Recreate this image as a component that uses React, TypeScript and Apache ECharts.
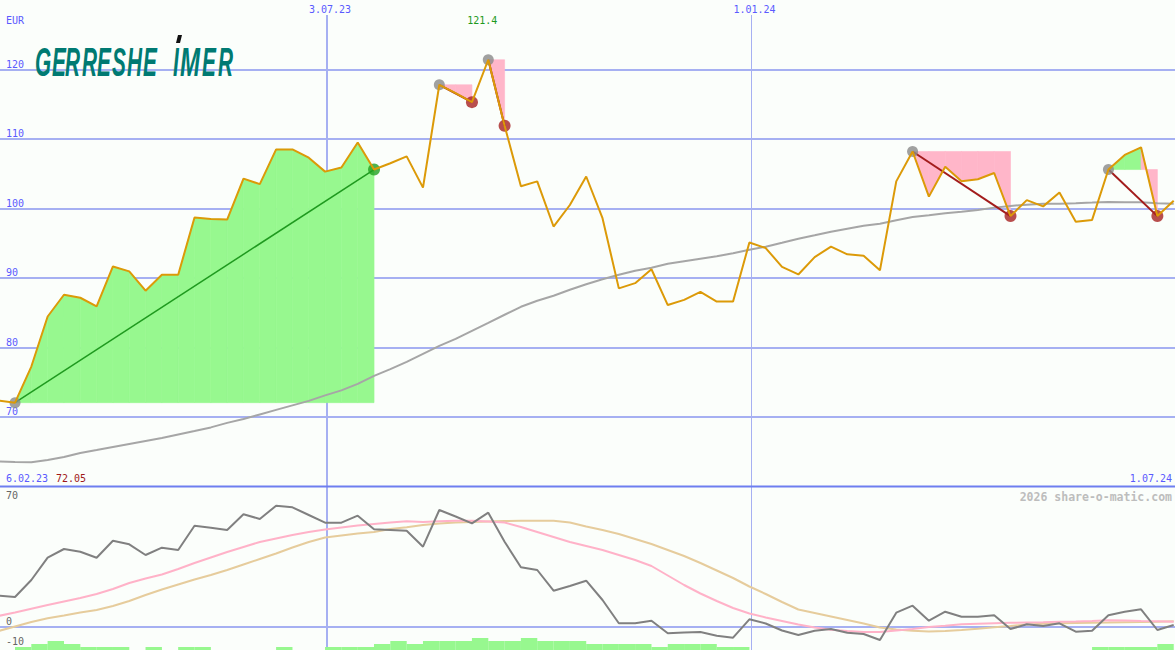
import React, { useEffect, useRef } from 'react';
import * as echarts from 'echarts';

// Weekly closing prices (EUR), index 0..72
const price = [
  72.35, 72.05, 77.25, 84.45, 87.58, 87.15, 85.9, 91.65, 90.94, 88.16,
  90.46, 90.46, 98.7, 98.5, 98.4, 104.3, 103.5, 108.5, 108.5, 107.3,
  105.3, 105.9, 109.5, 105.6, 106.5, 107.5, 103.0, 117.8, 116.6, 115.3,
  121.4, 111.9, 103.2, 103.9, 97.4, 100.5, 104.6, 98.6, 88.5, 89.25,
  91.25, 86.1, 86.85, 88.0, 86.6, 86.6, 95.1, 94.3, 91.6, 90.5,
  93.0, 94.5, 93.4, 93.2, 91.1, 103.9, 108.2, 101.7, 106.0, 103.9,
  104.2, 105.1, 98.9, 101.2, 100.3, 102.3, 98.1, 98.35, 105.6, 107.7,
  108.8, 98.9, 101.1,
];

// Long moving average (grey)
const movingAvg = [
  63.59, 63.52, 63.47, 63.8, 64.24, 64.81, 65.24, 65.68, 66.11, 66.54,
  66.97, 67.48, 67.98, 68.49, 69.14, 69.71, 70.36, 71.01, 71.66, 72.31,
  73.1, 73.82, 74.76, 75.91, 76.87, 77.93, 79.08, 80.23, 81.24, 82.39,
  83.54, 84.7, 85.85, 86.71, 87.44, 88.3, 89.09, 89.81, 90.46, 91.04,
  91.47, 92.05, 92.41, 92.77, 93.13, 93.56, 94.06, 94.5, 95.07, 95.65,
  96.15, 96.66, 97.09, 97.52, 97.81, 98.31, 98.78, 99.03, 99.32, 99.54,
  99.78, 100.12, 100.37, 100.55, 100.66, 100.69, 100.76, 100.84, 100.94, 100.91,
  100.89, 100.76, 100.69,
];

// Lower panel: oscillator (dark grey)
const oscillator = [
  15.65, 15.0, 23.5, 34.65, 39.0, 37.65, 34.65, 43.15, 41.35, 36.0,
  39.65, 38.5, 50.65, 49.65, 48.5, 56.35, 54.0, 60.65, 59.85, 56.0,
  52.15, 52.15, 55.65, 48.85, 48.5, 48.15, 40.15, 58.5, 55.25, 51.85,
  57.15, 42.65, 29.85, 28.5, 18.15, 20.5, 23.15, 13.5, 1.85, 1.85,
  3.15, -3.15, -2.75, -2.5, -4.35, -5.35, 3.85, 1.75, -1.75, -4.0,
  -1.85, -1.0, -2.85, -3.5, -6.5, 7.15, 10.65, 3.15, 7.65, 5.15,
  5.15, 5.85, -1.0, 1.35, 0.5, 1.85, -2.35, -1.85, 5.85, 7.65,
  8.85, -1.5, 1.0,
];

// Lower panel: fast signal (pink)
const signalFast = [
  5.55, 7.25, 9.15, 11.0, 12.75, 14.5, 16.5, 19.0, 22.0, 24.25,
  26.25, 29.0, 32.0, 34.75, 37.5, 40.0, 42.5, 44.25, 46.0, 47.5,
  48.75, 49.75, 50.75, 51.5, 52.25, 52.9, 52.5, 52.9, 53.15, 53.15,
  52.75, 52.25, 50.0, 47.5, 45.0, 42.5, 40.5, 38.5, 36.0, 33.5,
  30.5, 25.75, 21.0, 16.75, 13.0, 9.5, 6.75, 4.75, 3.0, 1.25,
  -0.25, -1.4, -2.0, -2.5, -2.5, -1.75, -1.0, 0, 0.65, 1.35,
  1.6, 1.85, 2.1, 2.25, 2.4, 2.6, 2.75, 3.0, 3.35, 3.25,
  3.0, 2.85, 2.65,
];

// Lower panel: slow signal (tan)
const signalSlow = [
  -2.0, 0.25, 2.5, 4.35, 5.75, 7.25, 8.5, 10.5, 13.0, 16.0,
  18.75, 21.25, 23.75, 26.0, 28.5, 31.25, 34.0, 36.75, 39.75, 42.5,
  44.75, 45.75, 46.75, 47.5, 49.0, 49.85, 51.0, 51.75, 52.25, 52.5,
  52.75, 53.0, 53.15, 53.15, 53.15, 52.25, 50.25, 48.5, 46.5, 44.0,
  41.5, 38.5, 35.5, 32.0, 28.25, 24.5, 20.25, 16.5, 12.5, 8.75,
  7.0, 5.25, 3.5, 1.75, -0.25, -1.25, -1.9, -2.25, -2.0, -1.5,
  -0.85, -0.15, 0.5, 1.25, 1.6, 1.85, 2.0, 2.15, 2.25, 2.4,
  2.5, 2.65, 2.85,
];

// Lower panel: histogram levels (green bars, one per week)
const histogram = [
  0, 1, 2, 3, 2, 1, 1, 1, 0, 1,
  0, 1, 1, 0, 0, 0, 0, 1, 0, 0,
  1, 1, 1, 2, 3, 2, 3, 3, 3, 4,
  3, 3, 4, 3, 3, 3, 2, 2, 2, 2,
  1, 2, 2, 2, 1, 1, 0, 0, 0, 0,
  0, 0, 0, 0, 0, 0, 0, 0, 0, 0,
  0, 0, 0, 0, 0, 0, 0, 1, 1, 1,
  1, 2,
];

// Trend segments (start week, end week)
const tradeStarts = [1, 27, 30, 56, 68];
const tradeEnds = [23, 29, 31, 62, 71];

// Date marks (week position) and labels
const dateLabels = ['3.07.23', '1.01.24'];
const datePositions = [20.12, 46.1];
const firstDate = '6.02.23';
const lastDate = '1.07.24';
const currency = 'EUR';
const lowerTicks = [70, 0, -10];

// Logo letters
const logoLetters = ['G', 'E', 'R', 'R', 'E', 'S', 'H', 'E', 'I', 'M', 'E', 'R'];
const logoOffsets = [0, 17, 30, 47, 62, 77, 92, 108, 138, 145, 167, 183];

const BLUE_TEXT = '#5a5aff';
const GRID = '#a6b0f2';
const MONO = '"DejaVu Sans Mono", monospace';

export default function App() {
  const ref = useRef<HTMLDivElement>(null);

  useEffect(() => {
    document.body.style.margin = '0';
    const el = ref.current!;
    const chart = echarts.init(el, null, { renderer: 'svg' });

    const trades = tradeStarts.map((s, k) => ({ start: s, end: tradeEnds[k] }));
    const xMin = 0.08;
    const xMax = 72.08;

    const option: any = {
      animation: false,
      backgroundColor: '#fbfefb',
      grid: [
        { left: 0, right: 0, top: 0, height: 486.4 },
        { left: 0, right: 0, top: 487, height: 163 },
      ],
      xAxis: [
        { gridIndex: 0, type: 'value', min: xMin, max: xMax, show: false },
        { gridIndex: 1, type: 'value', min: xMin, max: xMax, show: false },
      ],
      yAxis: [
        {
          gridIndex: 0,
          type: 'value',
          min: 60,
          max: 130,
          interval: 10,
          axisLine: { show: false },
          axisTick: { show: false },
          axisLabel: {
            inside: true,
            margin: 6,
            verticalAlign: 'bottom',
            color: BLUE_TEXT,
            fontFamily: MONO,
            fontSize: 10,
            showMinLabel: false,
            showMaxLabel: false,
          },
          splitLine: {
            show: true,
            showMinLine: false,
            showMaxLine: false,
            lineStyle: { color: GRID, width: 2 },
          },
        },
        { gridIndex: 1, type: 'value', min: -11.5, max: 70, show: false },
        { gridIndex: 1, type: 'value', min: 0, max: 54.33, show: false },
      ],
      series: [
        {
          type: 'custom',
          name: 'fills',
          xAxisIndex: 0,
          yAxisIndex: 0,
          z: 2,
          data: trades.map((t) => [t.start, price[t.start]]),
          renderItem: (params: any, api: any) => {
            const t = trades[params.dataIndex];
            const level = price[t.start];
            const children: any[] = [];
            for (let i = t.start; i < t.end; i++) {
              const a = price[i];
              const b = price[i + 1];
              const up = (a + b) / 2 >= level;
              const col = up ? '#97f88f' : '#ffb6c9';
              children.push({
                type: 'polygon',
                shape: {
                  points: [
                    api.coord([i, level]),
                    api.coord([i + 1, level]),
                    api.coord([i + 1, b]),
                    api.coord([i, a]),
                  ],
                },
                style: { fill: col, stroke: col, lineWidth: 0.6 },
              });
            }
            return { type: 'group', children };
          },
        },
        {
          type: 'line',
          name: 'ma',
          xAxisIndex: 0,
          yAxisIndex: 0,
          z: 3,
          showSymbol: false,
          data: movingAvg.map((v, i) => [i, v]),
          lineStyle: { color: '#a6a6a6', width: 2 },
        },
        {
          type: 'custom',
          name: 'links',
          xAxisIndex: 0,
          yAxisIndex: 0,
          z: 4,
          data: trades.map((t) => [t.start, price[t.start]]),
          renderItem: (params: any, api: any) => {
            const t = trades[params.dataIndex];
            const p1 = api.coord([t.start, price[t.start]]);
            const p2 = api.coord([t.end, price[t.end]]);
            const up = price[t.end] >= price[t.start];
            return {
              type: 'line',
              shape: { x1: p1[0], y1: p1[1], x2: p2[0], y2: p2[1] },
              style: { stroke: up ? '#1f9a1f' : '#a31c1c', lineWidth: up ? 1.5 : 2 },
            };
          },
        },
        {
          type: 'scatter',
          name: 'starts',
          xAxisIndex: 0,
          yAxisIndex: 0,
          z: 5,
          symbolSize: 11,
          itemStyle: { color: '#8a8a8a' },
          data: trades.map((t) => [t.start, price[t.start]]),
        },
        {
          type: 'scatter',
          name: 'ends',
          xAxisIndex: 0,
          yAxisIndex: 0,
          z: 5,
          symbolSize: 12,
          data: trades.map((t) => ({
            value: [t.end, price[t.end]],
            itemStyle: { color: price[t.end] >= price[t.start] ? '#22a022' : '#a82222' },
          })),
        },
        {
          type: 'line',
          name: 'price',
          xAxisIndex: 0,
          yAxisIndex: 0,
          z: 6,
          showSymbol: false,
          data: price.map((v, i) => [i, v]),
          lineStyle: { color: '#dc9a08', width: 2 },
        },
        {
          type: 'bar',
          name: 'hist',
          xAxisIndex: 1,
          yAxisIndex: 2,
          z: 2,
          barWidth: 16.4,
          itemStyle: { color: '#97f88f' },
          data: histogram.map((v, i) => [i + 0.5, v]),
        },
        {
          type: 'line',
          name: 'slow',
          xAxisIndex: 1,
          yAxisIndex: 1,
          z: 3,
          showSymbol: false,
          data: signalSlow.map((v, i) => [i, v]),
          lineStyle: { color: '#e6cc9c', width: 2 },
        },
        {
          type: 'line',
          name: 'fast',
          xAxisIndex: 1,
          yAxisIndex: 1,
          z: 4,
          showSymbol: false,
          data: signalFast.map((v, i) => [i, v]),
          lineStyle: { color: '#ffb2c8', width: 2 },
        },
        {
          type: 'line',
          name: 'osc',
          xAxisIndex: 1,
          yAxisIndex: 1,
          z: 5,
          showSymbol: false,
          data: oscillator.map((v, i) => [i, v]),
          lineStyle: { color: '#808080', width: 2 },
        },
      ],
    };

    chart.setOption(option);

    // Decorations positioned through the chart's own scales
    const g: any[] = [];
    const W = 1175;
    const px = (v: number) => chart.convertToPixel({ xAxisIndex: 0 }, v) as number;
    const pyMain = (v: number) => chart.convertToPixel({ yAxisIndex: 0 }, v) as number;
    const pyLow = (v: number) => chart.convertToPixel({ yAxisIndex: 1 }, v) as number;

    dateLabels.forEach((lab, k) => {
      const x = Math.round(px(datePositions[k])) + (k === 0 ? 0 : 0.5);
      g.push({
        type: 'line',
        z: 1,
        shape: { x1: x, y1: 15, x2: x, y2: 650 },
        style: { stroke: GRID, lineWidth: k === 0 ? 2 : 1 },
      });
      g.push({
        type: 'text',
        z: 20,
        x: x + 3,
        y: 9,
        style: {
          text: lab,
          fill: BLUE_TEXT,
          font: `10px ${MONO}`,
          align: 'center',
          verticalAlign: 'middle',
          textAlign: 'center',
          textVerticalAlign: 'middle',
        },
      });
    });

    // separator line between panels (bottom of price axis)
    const ySep = Math.round(pyMain(60)) + 0.5;
    g.push({
      type: 'line',
      z: 10,
      shape: { x1: 0, y1: ySep, x2: W, y2: ySep },
      style: { stroke: '#6e7ef0', lineWidth: 2 },
    });

    // zero line lower panel
    const y0 = Math.round(pyLow(0));
    g.push({
      type: 'line',
      z: 1,
      shape: { x1: 0, y1: y0, x2: W, y2: y0 },
      style: { stroke: GRID, lineWidth: 2 },
    });

    lowerTicks.forEach((v) => {
      const y = pyLow(v);
      const top = v === lowerTicks[0];
      g.push({
        type: 'text',
        z: 20,
        x: 6,
        y: top ? y + 3 : y - 1,
        style: {
          text: String(v),
          fill: '#666666',
          font: `10px ${MONO}`,
          align: 'left',
          verticalAlign: top ? 'top' : 'bottom',
          textAlign: 'left',
          textVerticalAlign: top ? 'top' : 'bottom',
        },
      });
    });

    // high label
    const hi = Math.max(...price);
    const hiIdx = price.indexOf(hi);
    g.push({
      type: 'text',
      z: 20,
      x: px(hiIdx) - 6,
      y: 20,
      style: {
        text: hi.toFixed(1),
        fill: '#1e9a1e',
        font: `10px ${MONO}`,
        align: 'center',
        verticalAlign: 'middle',
        textAlign: 'center',
        textVerticalAlign: 'middle',
      },
    });

    const lo = Math.min(...price);
    const textBase = (text: string, x: number, y: number, fill: string, align = 'left') => ({
      type: 'text',
      z: 20,
      x,
      y,
      style: {
        text,
        fill,
        font: `10px ${MONO}`,
        align,
        verticalAlign: 'middle',
        textAlign: align,
        textVerticalAlign: 'middle',
      },
    });
    g.push(textBase(currency, 6, 20, BLUE_TEXT));
    g.push(textBase(firstDate, 6, 478, BLUE_TEXT));
    g.push(textBase(lo.toFixed(2), 56, 478, '#a01818'));
    g.push(textBase(lastDate, 1172, 478, BLUE_TEXT, 'right'));

    g.push({
      type: 'text',
      z: 20,
      x: 1172,
      y: 497,
      style: {
        text: '2026 share-o-matic.com',
        fill: '#bdbdbd',
        font: `bold 11.5px ${MONO}`,
        align: 'right',
        verticalAlign: 'middle',
        textAlign: 'right',
        textVerticalAlign: 'middle',
      },
    });

    // logo, letter by letter
    logoLetters.forEach((ch, k) => {
      g.push({
        type: 'text',
        z: 20,
        x: 35 + logoOffsets[k],
        y: 62.5,
        scaleX: ch === 'M' ? 0.6 : 0.52,
        style: {
          text: ch,
          fill: '#007a72',
          font: `italic bold 40px "Liberation Sans", Arial, sans-serif`,
          align: 'left',
          verticalAlign: 'middle',
          textAlign: 'left',
          textVerticalAlign: 'middle',
        },
      });
    });
    g.push({
      type: 'polygon',
      z: 21,
      shape: { points: [[178, 35], [182, 35], [180, 43], [176, 43]] },
      style: { fill: '#111111' },
    });

    chart.setOption({ graphic: g });

    return () => chart.dispose();
  }, []);

  return <div ref={ref} style={{ width: 1175, height: 650, background: '#fbfefb' }} />;
}
